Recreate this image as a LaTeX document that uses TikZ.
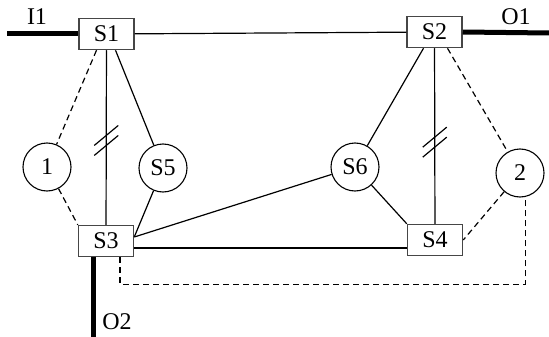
\documentclass[tikz,border=0pt]{standalone}
\usepackage{fontspec}
\setmainfont{Liberation Serif}
\usepackage{tikz}
\usetikzlibrary{positioning, calc}
\definecolor{boxgray}{RGB}{70, 70, 70}

\begin{document}
\begin{tikzpicture}[x=1pt, y=-1pt,
    font=\fontsize{24}{26}\selectfont,
    switchbox/.style={draw=boxgray, line width=1.5pt, fill=white, inner sep=0pt,
                      minimum width=55pt, minimum height=31pt},
    relay/.style={draw, circle, line width=1.1pt, fill=white, inner sep=0pt, minimum size=48pt},
    link/.style={line width=1.2pt},
    backup/.style={line width=1.2pt, dash pattern=on 6pt off 4pt},
    port/.style={line width=5pt}]
    \useasboundingbox (0,0) rectangle (549,337);

    % switches and relays
    \node[switchbox] (s1) at (106.5,34) {S1};
    \node[switchbox] (s2) at (434.5,32) {S2};
    \node[switchbox] (s3) at (106,241) {S3};
    \node[switchbox] (s4) at (435,240) {S4};
    \node[relay] (c1) at (47,167) {1};
    \node[relay] (s5) at (163,168) {S5};
    \node[relay] (s6) at (355,167) {S6};
    \node[relay] (c2) at (520,173) {2};

    % in / out ports
    \coordinate (in1) at (7,34);
    \coordinate (out1) at (549,33);
    \coordinate (out2) at (93,337);
    \draw[port] (in1) -- (s1.west);
    \draw[port] (s2.east) -- (out1);
    \draw[port] ([xshift=-13pt]s3.south) -- (out2);
    \node (i1lbl) at (37,17) {I1};
    \node (o1lbl) at (516,17) {O1};
    \node (o2lbl) at (117,322) {O2};

    % links
    \draw[link] (s1) -- (s2);
    \draw[link] (s1) -- (s3) coordinate[pos=0.517] (m13);
    \draw[link] (s2) -- (s4) coordinate[pos=0.535] (m24);
    \draw[link] ([xshift=9pt]s1.south) -- (s5);
    \draw[link] (s5) -- ([yshift=4pt]s3.east);
    \draw[link] ([yshift=4pt]s3.east) -- (s6);
    \draw[link] ([yshift=-7pt]s3.east) -- ([yshift=-7pt]s3.east -| s4.west);
    \draw[link] ([xshift=-11pt]s2.south) -- (s6);
    \draw[link] (s6) -- (s4.north west);

    % parallel marks
    \foreach \m in {m13,m24}{
        \draw[link] ([shift={(-12,5)}]\m) -- ([shift={(12,-15)}]\m);
        \draw[link] ([shift={(-12,15)}]\m) -- ([shift={(12,-5)}]\m);
    }

    % backup paths
    \draw[backup] ([xshift=-10pt]s1.south) -- (c1);
    \draw[backup] (c1) -- (s3.north west);
    \draw[backup] ([xshift=13pt]s2.south) -- (c2);
    \draw[backup] (c2) -- (s4.east);
    \draw[backup] ([xshift=14pt]s3.south) -- ++(0,27) -| (c2.-78);
\end{tikzpicture}
\end{document}
